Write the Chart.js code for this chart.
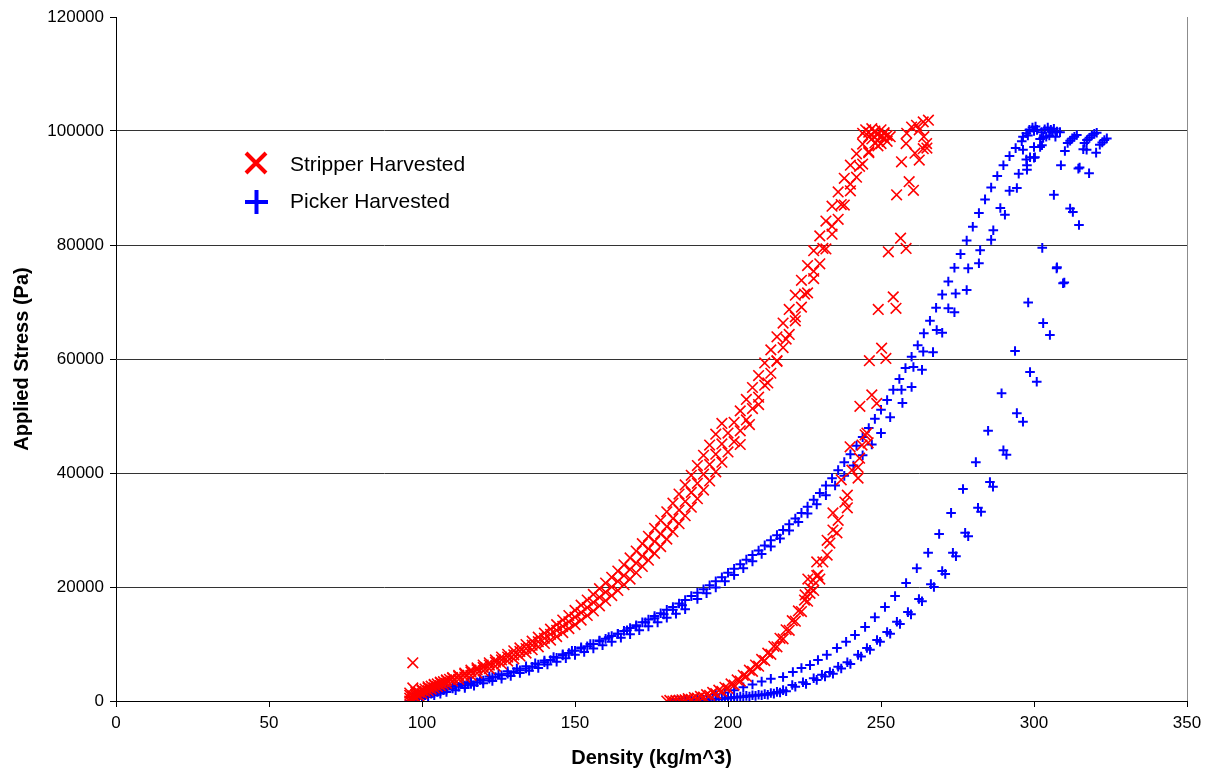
<!DOCTYPE html>
<html>
<head>
<meta charset="utf-8">
<script src="https://cdn.jsdelivr.net/npm/chart.js@4.4.0/dist/chart.umd.min.js"></script>
<style>
  body { margin: 0; background: #fff; }
  #wrap { width: 1213px; height: 774px; }
</style>
</head>
<body>
<div id="wrap"><canvas id="stressChart" width="1213" height="774"></canvas></div>
<script>
// axis ticks
const densityTicks = [0, 50, 100, 150, 200, 250, 300, 350];
const stressTicks = [0, 20000, 40000, 60000, 80000, 100000, 120000];
const seriesNames = ["Stripper Harvested", "Picker Harvested"];

// [density, stress] pairs
const stripperRun1 = [
  [96,0],[96,500],[97,900],[98,1200],[99,1500],[100,1800],[101,2100],[102,2300],[103,2600],[104,2800],
  [105,3000],[106,3200],[107,3400],[108,3600],[109,3800],[110,4000],[112,4300],[114,4700],[116,5100],[118,5500],
  [120,5900],[122,6300],[124,6800],[126,7200],[128,7700],[130,8100],[132,8700],[134,9200],[136,9800],[138,10400],
  [140,11000],[142,11700],[144,12400],[146,13100],[148,13900],[150,14700],[152,15500],[154,16400],[156,17300],[158,18200],
  [160,19100],[162,20000],[164,21000],[166,22000],[168,23100],[170,24200],[172,25400],[174,26700],[176,28000],[178,29300],
  [180,30600],[182,32000],[184,33500],[186,35000],[188,36600],[190,38200],[192,39800],[194,41500],[196,43300],[198,45100],
  [200,47000],[202,48900],[204,50900],[206,52900],[208,55000],[210,57100],[212,59300],[214,61600],[216,63900],[218,66300],
  [220,68700],[222,71200],[224,73800],[226,76400],[228,79000],[230,81600],[232,84200],[234,86800],[236,89300],[238,91700],
  [240,94000],[242,96000],[244,97700],[246,99000],[248,99800],
  [97,200],[98,600],[99,900],[100,1300],[101,1600],[102,1800],[103,2100],[104,2300],[105,2500],[106,2700],
  [107,2900],[108,3100],[110,3500],[112,3800],[114,4200],[116,4500],[118,4900],[120,5300],[122,5700],[124,6100],
  [126,6500],[128,7000],[130,7400],[132,7900],[134,8400],[136,9000],[138,9500],[140,10100],[142,10700],[144,11300],
  [146,12000],[148,12700],[150,13400],[152,14200],[154,15000],[156,15800],[158,16700],[160,17600],[162,18500],[164,19400],
  [166,20400],[168,21400],[170,22500],[172,23600],[174,24700],[176,25900],[178,27100],[180,28400],[182,29700],[184,31100],
  [186,32500],[188,34000],[190,35500],[192,37000],[194,38600],[196,40200],[198,41900],[200,43700],[202,45500],[204,47400],
  [206,49300],[208,51300],[210,53300],[212,55400],[214,57500],[216,59700],[218,62000],[220,64300],[222,66700],[224,69100],
  [226,71600],[228,74100],[230,76700],[232,79300],[234,81900],[236,84500],[238,87000],[240,89500],[242,91900],[244,94200],
  [246,96200],[248,97900],[250,99100],[251,99700],
  [98,1600],[100,2000],[102,2500],[104,2900],[106,3300],[108,3700],[110,4100],[112,4500],[114,4900],[116,5400],
  [118,5800],[120,6300],[122,6700],[124,7200],[126,7700],[128,8200],[130,8800],[132,9300],[134,9900],[136,10500],
  [138,11200],[140,11900],[142,12600],[144,13400],[146,14200],[148,15000],[150,15900],[152,16800],[154,17700],[156,18700],
  [158,19700],[160,20700],[162,21700],[164,22800],[166,23900],[168,25100],[170,26300],[172,27600],[174,28900],[176,30300],
  [178,31700],[180,33200],[182,34700],[184,36300],[186,37900],[188,39600],[190,41300],[192,43100],[194,44900],[196,46800],
  [198,48700],
  [204,45000],[207,48500],[210,52000],[213,55800],[216,59600],[219,63500],[222,67400],[225,71400],[228,75400],[231,79400],
  [234,83300],[237,87100],[240,90700],[243,93800],[246,96400],[249,98300],[252,99200],
  [244,99600],[245,100200],[246,99800],[247,100400],[248,100000],[249,99400],[250,100200],[251,98800],[252,98200],[253,99000],
  [249,97400],[247,98600],[250,97800],[251,99500],
  [97,6700],[97,2300],[96,1000],[96,1400]
];

const stripperRun2 = [
  [180,0],[182,0],[184,100],[186,200],[188,300],[190,500],[192,700],[194,1000],[196,1300],[198,1700],
  [200,2200],[202,2800],[204,3500],[206,4300],[208,5200],[210,6100],[212,7100],[214,8200],[216,9500],[218,10900],
  [220,12400],[222,14000],[224,15700],[226,17500],[228,19400],[230,21400],
  [181,100],[183,100],[185,200],[187,400],[189,600],[191,800],[193,1100],[195,1500],[197,1900],[199,2400],
  [201,3000],[203,3700],[205,4500],[207,5400],[209,6300],[211,7300],[213,8400],[215,9600],[217,11000],[219,12500],
  [221,14100],[223,15800],[225,17700],[227,19800],[229,22000],
  [226.8,18900],[225.2,18600],[229.4,22100],[226.1,21400],[227.8,21200],[229,24400],[232.4,25600],[231,24400],[232.4,28200],[233.3,27700],
  [235.6,29500],[234.3,30000],[236,31700],[234.3,33000],[239,33900],[238.2,34900],[239,36100],[242.5,39100],[237,38800],[240.5,40500],
  [242.5,41000],[239.9,44600],[243.8,44900],[245.8,45300],[245.4,47000],[243,42600],[244.8,46700],
  [243.1,51700],[246.2,59700],[249.1,68700],[252.4,78800],[255.1,88800],[256.7,94600],
  [247,53700],[248.6,52200],[250.2,61900],[251.6,60100],[254,70900],[254.9,68900],[256.4,81200],[258.2,79400],[259.2,91100],[260.6,89600],
  [262.5,94900],[261.1,96100],[263.8,96900],[264.9,97800],[258.2,97800],[260,100700],[261.6,101000],[263.8,101600],[265.5,101900],[258.4,99600],
  [262.5,100200],[264,99000],[265,97000]
];

const pickerRun1 = [
  [96,0],[97,200],[98,400],[99,600],[100,800],[101,1000],[102,1100],[103,1300],[104,1400],[105,1600],
  [106,1700],[107,1900],[108,2000],[110,2200],[112,2500],[114,2700],[116,3000],[118,3300],[120,3600],[122,3900],
  [124,4200],[126,4500],[128,4800],[130,5100],[132,5400],[134,5700],[136,6000],[138,6400],[140,6800],[142,7200],
  [144,7600],[146,8000],[148,8400],[150,8800],[152,9200],[154,9600],[156,10000],[158,10500],[160,10900],[162,11400],
  [164,11800],[166,12300],[168,12800],[170,13300],[172,13800],[174,14300],[176,14900],[178,15400],[180,16000],[182,16500],
  [184,17100],[186,17700],[188,18400],[190,19000],[192,19600],[194,20300],[196,21000],[198,21700],[200,22500],[202,23200],
  [204,24000],[206,24800],[208,25600],[210,26400],[212,27300],[214,28200],[216,29100],[218,30000],[220,31000],[222,32000],
  [224,33000],[226,34100],[228,35300],[230,36500],[232,37800],[234,39100],[236,40500],[238,41900],[240,43300],[242,44800],
  [244,46300],[246,47900],[248,49500],[250,51100],[252,52800],[254,54600],[256,56500],[258,58400],[260,60400],[262,62400],
  [264,64500],[266,66700],[268,69000],[270,71300],[272,73600],[274,76000],[276,78400],[278,80800],[280,83200],[282,85600],
  [284,88000],[286,90100],[288,92100],[290,94000],[292,95600],[294,97000],[296,98200],[298,99200],[300,100000],
  [97,700],[99,1100],[101,1400],[103,1700],[105,1900],[108,2300],[111,2700],[115,3200],[119,3700],[123,4200],
  [99,900],[101,1300],[103,1600],[105,1900],[107,2200],[110,2600],[113,3000],[116,3400],[119,3800],[122,4300],
  [125,4700],[128,5200],[131,5700],[134,6100],[137,6600],[140,7100],[143,7700],[146,8200],[149,8800],[152,9400],
  [155,10000],[158,10600],[161,11200],[164,11800],[167,12400],[170,13100],[173,13800],[176,14500],[179,15200],[182,16000],
  [185,16800],
  [100,500],[102,700],[104,1000],[106,1300],[108,1600],[111,1900],[114,2300],[117,2700],[120,3100],[123,3500],
  [126,3900],[129,4400],[132,4900],[135,5300],[138,5800],[141,6400],[144,6900],[147,7500],[150,8100],[153,8600],
  [156,9200],[159,9800],[162,10400],[165,11100],[168,11700],[171,12400],[174,13100],[177,13800],[180,14600],[183,15300],
  [186,16100],
  [190,17900],[193,18900],[196,19900],[199,21000],[202,22100],[205,23300],[208,24500],[211,25800],[214,27100],[217,28500],
  [220,29900],[223,31400],[226,32900],[229,34500],[232,36100],[235,37800],[238,39500],[241,41300],[244,43100],[247,45000],
  [250,47000],[253,49800],[257,52300],[260,55100],[263.4,58100],[267,61200],[270,64600],[274,68200],[278,72100],[282,76800],
  [286,80900],[290.5,85300],[294.4,90000],[297.7,93200],[300,95300],[302.6,97500],[304,99000],[306,99800],[308.5,99800],
  [256.7,54600],[260.6,58600],[263.8,61300],[268.2,65100],[272,68900],[274.4,71500],[278.5,75900],[282.4,79100],[286.7,82600],[289,86500],
  [292,89500],[295,92500],[297.5,95000],[300,97200],[302,98600],
  [296.4,99000],[297.5,99600],[298.5,100200],[299.5,100600],[300.5,100800],[301,100200],[302.5,99800],[303.5,100300],[304.5,100600],[305.5,100200],
  [306.5,100400],[307.5,99900],[303,98800],[305,99200],[307,99000],[298.7,95400],[300.3,95400],[297.7,94000],[296.4,96700],[302,97200]
];

const pickerRun2 = [
  [182,0],[184,0],[186,100],[188,100],[190,200],[192,200],[194,300],[196,400],[198,500],[200,600],
  [202,700],[204,800],[206,900],[208,1000],[210,1100],[212,1200],[214,1400],[216,1600],[218,1900],[221,2800],
  [224.5,3300],[228,4000],[230.7,4600],[233.3,5100],[236,6000],[239,6800],[242.5,8100],[245.4,9300],[248.7,10700],[252,12100],
  [255.2,13900],[258.8,15600],[262.4,17900],[266.3,20500],[270,22800],[273.5,26000],[277.5,29500],[281.7,33900],[285.6,38400],[290,44000],
  [294.4,50500],[298.7,57700],[303,66300],[307.4,75900],[311.8,86400],[314.5,93400],[316.1,96800],
  [183,100],[185,0],[187,0],[189,100],[191,100],[193,200],[195,300],[197,300],[199,400],[201,500],
  [203,600],[205,700],[207,800],[209,900],[211,1000],[213,1100],[215,1300],[217,1500],[219,1700],[222,2500],
  [225.5,3000],[229,3700],[231.7,4300],[234.3,4800],[237,5700],[240,6500],[243.5,7800],[246.4,9000],[249.7,10400],[253,11800],
  [256.2,13500],[259.8,15200],[263.4,17500],[267.3,20000],[271,22300],[274.5,25400],[278.5,28900],[282.7,33200],[286.6,37600],[291,43200],
  [296.4,49000],[300.9,56000],[305.2,64200],[309.9,73400],[312.7,85800],[314.7,83500],[318,92600],[320.3,96200],
  [196,1200],[199,1500],[202,1900],[205,2400],[208,2900],[211,3400],[214,3900],[218,4200],[221.2,5100],[224,5800],
  [226.8,6300],[229.4,7200],[232.3,8100],[235.6,9300],[238.6,10400],[241.5,11600],[244.8,13000],[248,14700],[251.3,16500],[254.6,18400],
  [258.2,20700],[261.7,23300],[265.4,26000],[269,29300],[272.9,33000],[276.8,37200],[281,41900],[285,47400],[289.4,54000],[293.8,61400],
  [298.1,69900],[302.7,79500],[306.5,88800],[308.8,94000],[310.1,96500],
  [311,97900],[311.8,98300],[312.5,98700],[313.2,99000],[314,99300],[316.5,97900],[317.3,98400],[318.1,98800],[318.9,99200],[319.7,99500],
  [320.5,99700],[321.5,97600],[322.3,98000],[323,98400],[323.8,98700],[317.2,96700],[314.9,93600],[307.5,76100],[309.5,73300]
];

const toPoints = (pairs) => pairs.map(([x, y]) => ({ x: x, y: y }));
const baseFont = "'Liberation Sans', Arial, sans-serif";

// legend sits inside the plot, plus the grey right frame
const plotExtras = {
  id: "plotExtras",
  afterDraw(chart) {
    const c = chart.ctx;
    const a = chart.chartArea;
    c.save();
    c.strokeStyle = "#8c8c8c";
    c.lineWidth = 1;
    c.beginPath();
    c.moveTo(a.right + 0.5, a.top);
    c.lineTo(a.right + 0.5, a.bottom);
    c.stroke();

    c.lineWidth = 4;
    c.strokeStyle = "#ff0000";
    c.beginPath();
    c.moveTo(246, 153); c.lineTo(266, 173);
    c.moveTo(266, 153); c.lineTo(246, 173);
    c.stroke();
    c.strokeStyle = "#0000ff";
    c.beginPath();
    c.moveTo(245, 202); c.lineTo(268, 202);
    c.moveTo(256.5, 190); c.lineTo(256.5, 214);
    c.stroke();

    c.fillStyle = "#000";
    c.font = "21px " + baseFont;
    c.textBaseline = "middle";
    c.fillText(seriesNames[0], 290, 165);
    c.fillText(seriesNames[1], 290, 202);
    c.restore();
  }
};

const ctx = document.getElementById("stressChart");
new Chart(ctx, {
  type: "scatter",
  data: {
    datasets: [
      {
        label: seriesNames[0],
        data: toPoints(stripperRun1.concat(stripperRun2)),
        pointStyle: "crossRot",
        pointRadius: 7.5,
        pointBorderWidth: 1.6,
        borderColor: "#ff0000",
        backgroundColor: "#ff0000",
      },
      {
        label: seriesNames[1],
        data: toPoints(pickerRun1.concat(pickerRun2)),
        pointStyle: "cross",
        pointRadius: 4.8,
        pointBorderWidth: 2,
        borderColor: "#0000ff",
        backgroundColor: "#0000ff",
      },
    ],
  },
  options: {
    responsive: false,
    animation: false,
    layout: { padding: { left: 0, top: 17, right: 26, bottom: 0 } },
    plugins: { legend: { display: false }, tooltip: { enabled: false } },
    scales: {
      x: {
        type: "linear",
        min: densityTicks[0],
        max: densityTicks[densityTicks.length - 1],
        afterFit: (scale) => { scale.height = 73; },
        ticks: {
          stepSize: densityTicks[1] - densityTicks[0],
          color: "#000",
          font: { family: baseFont, size: 17 },
          padding: 6,
          maxRotation: 0,
          callback: (v) => String(v),
        },
        grid: { drawOnChartArea: false, drawTicks: true, tickLength: 6, tickColor: "#000" },
        border: { color: "#000", width: 1 },
        title: {
          display: true,
          text: "Density (kg/m^3)",
          color: "#000",
          font: { family: baseFont, size: 20, weight: "bold" },
          padding: { top: 0, bottom: 4 },
        },
      },
      y: {
        min: stressTicks[0],
        max: stressTicks[stressTicks.length - 1],
        afterFit: (scale) => { scale.width = 116; },
        ticks: {
          stepSize: stressTicks[1] - stressTicks[0],
          color: "#000",
          font: { family: baseFont, size: 17 },
          padding: 6,
          callback: (v) => String(v),
        },
        grid: {
          color: (c) => (c.tick && c.tick.value === stressTicks[stressTicks.length - 1] ? "rgba(0,0,0,0)" : "#333"),
          lineWidth: 1,
          tickLength: 6,
          tickColor: "#000",
        },
        border: { color: "#000", width: 1 },
        title: {
          display: true,
          text: "Applied Stress (Pa)",
          color: "#000",
          font: { family: baseFont, size: 20, weight: "bold" },
          padding: { top: 10, bottom: 0 },
        },
      },
    },
  },
  plugins: [plotExtras],
});
</script>
</body>
</html>
